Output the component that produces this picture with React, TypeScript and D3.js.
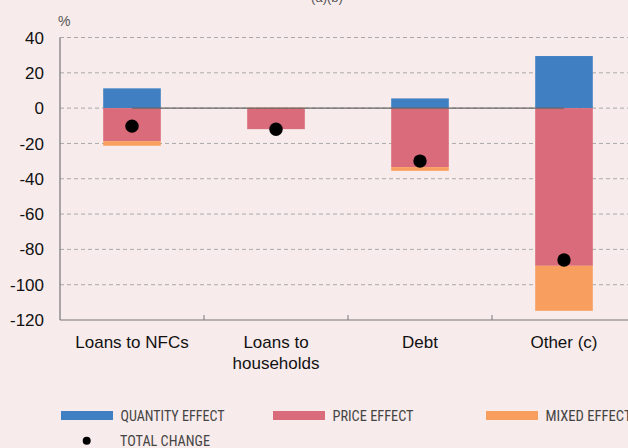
import React from "react";
import * as d3 from "d3";

const categories = ["Loans to NFCs", "Loans to households", "Debt", "Other (c)"];
const categoryLines = [["Loans to NFCs"], ["Loans to", "households"], ["Debt"], ["Other (c)"]];
const quantityEffect = [11.2, 0, 5.5, 29.5];
const priceEffect = [-18.7, -11.9, -33.4, -89.3];
const mixedEffect = [-2.6, 0.3, -2.1, -25.5];
const totalChange = [-10.2, -12, -30, -86];
const yTicks = [40, 20, 0, -20, -40, -60, -80, -100, -120];
const legendLabels = ["QUANTITY EFFECT", "PRICE EFFECT", "MIXED EFFECT"];
const totalLabel = "TOTAL CHANGE";

const W = 628, H = 448;
const m = { left: 60, top: 37.5, right: 636, bottom: 320 };
const colors = ["#3F7FC2", "#D96B7A", "#F89F5F"];

export default function App() {
  const x = d3.scaleBand<string>().domain(categories).range([m.left, m.right]).paddingInner(0.6).paddingOuter(0.3);
  const y = d3.scaleLinear().domain([-120, 40]).range([m.bottom, m.top]);
  const bw = x.bandwidth();
  const cx = (c: string) => (x(c) as number) + bw / 2;

  const bars: any[] = [];
  categories.forEach((c, i) => {
    let pos = 0, neg = 0;
    const segs = [quantityEffect[i], priceEffect[i], mixedEffect[i]];
    segs.forEach((v, j) => {
      if (v === 0) return;
      let y0, y1;
      if (v > 0) { y0 = pos; y1 = pos + v; pos = y1; }
      else { y0 = neg; y1 = neg + v; neg = y1; }
      bars.push(
        <rect key={c + j} x={x(c)} width={bw} y={y(Math.max(y0, y1))} height={Math.abs(y(y0) - y(y1))} fill={colors[j]} />
      );
    });
  });

  const zeroLine = d3.line<string>().x((c) => cx(c)).y(() => y(0));

  const legendFont = "'Liberation Sans Narrow', 'Roboto Condensed', 'Roboto', sans-serif";
  const legendX = [61, 273, 486];
  const legendLen = [104, 81, 86];

  return (
    <svg width={W} height={H} style={{ position: "absolute", left: 0, top: 0, background: "#F8EBEB" }}
      fontFamily="'Liberation Sans', Arial, sans-serif">
      <rect width={W} height={H} fill="#F8EBEB" />
      <text x={327} y={2} textAnchor="middle" fontSize={13} fill="#555">(a)(b)</text>
      <text x={58} y={26} fontSize={14} fill="#555">%</text>
      {yTicks.map((t) => (
        <g key={t}>
          {t !== -120 && (
            <line x1={m.left} x2={W} y1={y(t)} y2={y(t)} stroke="#aaa" strokeWidth={1} strokeDasharray="4,3" />
          )}
          <text x={44} y={y(t)} dy="0.36em" textAnchor="end" fontSize={17} fill="#111">{t}</text>
        </g>
      ))}
      {bars}
      <path d={zeroLine(categories) as string} stroke="#666" strokeWidth={1.2} fill="none" />
      <line x1={m.left} x2={m.left} y1={m.top} y2={m.bottom} stroke="#777" strokeWidth={1.2} />
      <line x1={m.left} x2={W} y1={m.bottom} y2={m.bottom} stroke="#777" strokeWidth={1.2} />
      {categories.slice(0, -1).map((c) => (
        <line key={c} x1={cx(c) + x.step() / 2} x2={cx(c) + x.step() / 2} y1={m.bottom} y2={m.bottom - 5} stroke="#777" />
      ))}
      {categories.map((c, i) => (
        <circle key={c} cx={cx(c)} cy={y(totalChange[i])} r={6.7} fill="#000" />
      ))}
      {categories.map((c, i) => (
        <text key={c} x={cx(c)} y={348} textAnchor="middle" fontSize={17} fill="#111">
          {categoryLines[i].map((l, k) => (
            <tspan key={k} x={cx(c)} dy={k === 0 ? 0 : 21}>{l}</tspan>
          ))}
        </text>
      ))}
      {legendLabels.map((l, i) => (
        <g key={l}>
          <rect x={legendX[i]} y={411} width={52} height={9} fill={colors[i]} />
          <text x={legendX[i] + 59.5} y={421} fontSize={15} fill="#444" fontFamily={legendFont}
            textLength={legendLen[i]} lengthAdjust="spacingAndGlyphs">{l}</text>
        </g>
      ))}
      <circle cx={86.7} cy={440.7} r={4} fill="#000" />
      <text x={120} y={446} fontSize={15} fill="#444" fontFamily={legendFont}
        textLength={90} lengthAdjust="spacingAndGlyphs">{totalLabel}</text>
    </svg>
  );
}
